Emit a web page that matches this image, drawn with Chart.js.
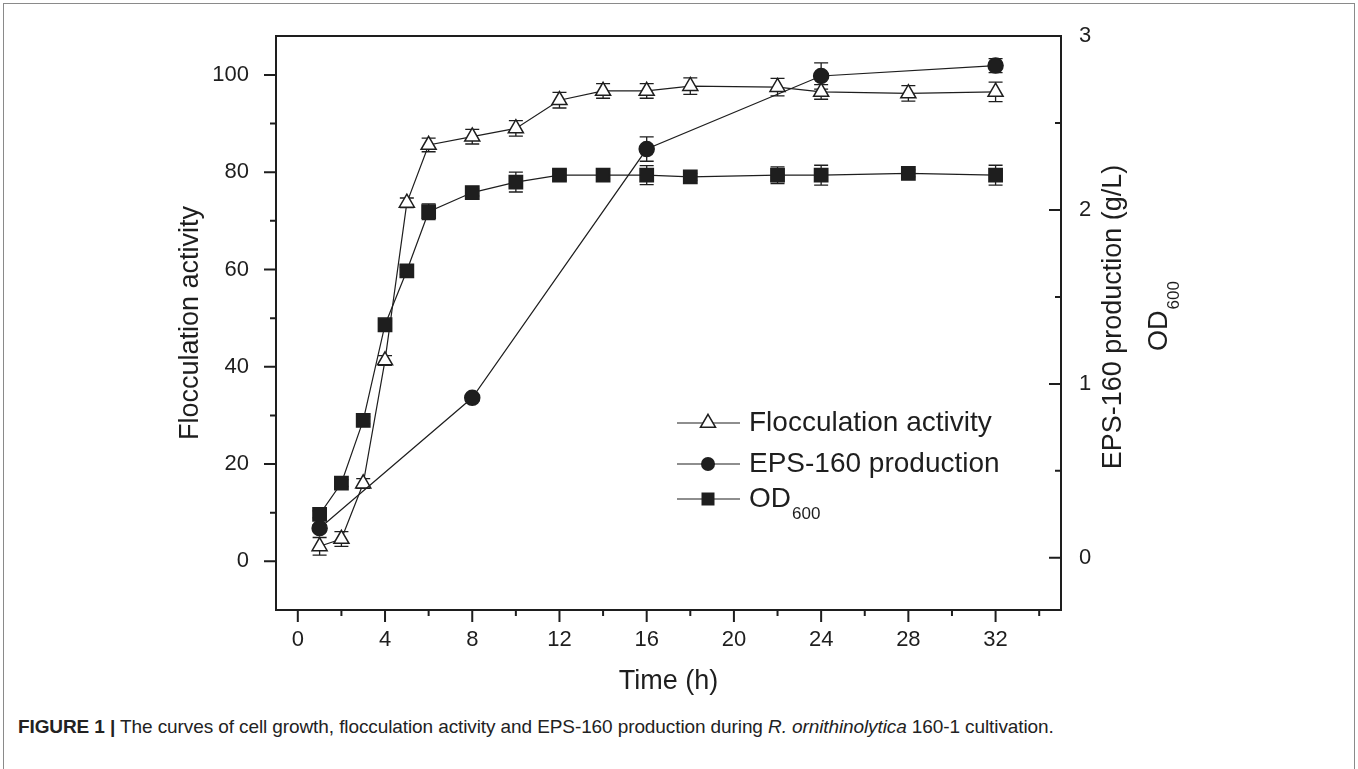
<!DOCTYPE html>
<html>
<head>
<meta charset="utf-8">
<script src="https://cdn.jsdelivr.net/npm/chart.js@4.4.1/dist/chart.umd.min.js"></script>
<style>
  html, body { margin: 0; padding: 0; background: #fff; }
  body { width: 1358px; height: 769px; position: relative; overflow: hidden; font-family: "Liberation Sans", Arial, sans-serif; }
  #frame { position: absolute; left: 3px; top: 3px; width: 1350px; height: 800px; border: 1px solid #8a8a8a; }
  #chart { position: absolute; left: 0; top: 0; }
  #caption { position: absolute; left: 18px; top: 716px; font-size: 19px; color: #222; white-space: nowrap; letter-spacing: -0.1px; }
  #caption b { font-weight: bold; }
</style>
</head>
<body>
<div id="frame"></div>
<canvas id="chart" width="1358" height="700"></canvas>
<div id="caption"><b>FIGURE 1 |</b> The curves of cell growth, flocculation activity and EPS-160 production during <i>R. ornithinolytica</i> 160-1 cultivation.</div>
<script>
// données
const time = [1, 2, 3, 4, 5, 6, 8, 10, 12, 14, 16, 18, 22, 24, 28, 32];
const flocculation = [3.1, 4.6, 16.0, 41.3, 73.7, 85.6, 87.3, 89.0, 94.8, 96.7, 96.7, 97.7, 97.5, 96.5, 96.2, 96.5];
const flocculationErr = [1.8, 1.5, 1.0, 1.0, 1.0, 1.4, 1.5, 1.6, 1.6, 1.5, 1.5, 1.7, 1.8, 1.5, 1.6, 2.0];

const epsTime = [1, 8, 16, 24, 32];
const eps = [0.17, 0.92, 2.35, 2.77, 2.83];
const epsErr = [0.02, 0.02, 0.07, 0.075, 0.04];

const od = [0.25, 0.43, 0.79, 1.34, 1.65, 1.99, 2.10, 2.16, 2.20, 2.20, 2.20, 2.19, 2.20, 2.20, 2.21, 2.20];
const odErr = [0.02, 0.02, 0.02, 0.02, 0.02, 0.045, 0.02, 0.057, 0.03, 0.02, 0.055, 0.02, 0.048, 0.057, 0.02, 0.057];

// axes
const xTicks = [0, 4, 8, 12, 16, 20, 24, 28, 32];
const xMinor = [2, 6, 10, 14, 18, 22, 26, 30, 34];
const yTicks = [0, 20, 40, 60, 80, 100];
const yMinor = [10, 30, 50, 70, 90];
const y1Ticks = [0, 1, 2, 3];
const y1Minor = [0.5, 1.5, 2.5];

const INK = '#1e1e1e';
const FONT = '"Liberation Sans", Arial, sans-serif';

function pts(xs, ys) {
    return xs.map((x, i) => ({ x: x, y: ys[i] }));
}

function drawMarker(ctx, style, x, y) {
    ctx.save();
    ctx.lineWidth = 1.5;
    ctx.strokeStyle = INK;
    ctx.fillStyle = INK;
    ctx.beginPath();
    if (style === 'triangle') {
        const r = 8.7;
        ctx.moveTo(x, y - r);
        ctx.lineTo(x + r * 0.866, y + r / 2);
        ctx.lineTo(x - r * 0.866, y + r / 2);
        ctx.closePath();
        ctx.fillStyle = '#fff';
        ctx.fill();
        ctx.stroke();
    } else if (style === 'circle') {
        ctx.arc(x, y, 7, 0, Math.PI * 2);
        ctx.fill();
    } else {
        ctx.rect(x - 6.5, y - 6.5, 13, 13);
        ctx.fill();
    }
    ctx.restore();
}

// barres d'erreur, cadre, graduations, légende et titre de droite
const figurePlugin = {
    id: 'figure',
    beforeDatasetsDraw(chart) {
        const ctx = chart.ctx;
        ctx.save();
        ctx.strokeStyle = INK;
        ctx.lineWidth = 1.3;
        chart.data.datasets.forEach((ds, di) => {
            const meta = chart.getDatasetMeta(di);
            const scale = chart.scales[ds.yAxisID];
            ds.data.forEach((p, i) => {
                const e = ds.errors[i];
                const px = meta.data[i].x;
                const top = scale.getPixelForValue(p.y + e);
                const bot = scale.getPixelForValue(p.y - e);
                ctx.beginPath();
                ctx.moveTo(px, top); ctx.lineTo(px, bot);
                ctx.moveTo(px - 7, top); ctx.lineTo(px + 7, top);
                ctx.moveTo(px - 7, bot); ctx.lineTo(px + 7, bot);
                ctx.stroke();
            });
        });
        ctx.restore();
    },
    afterDraw(chart) {
        const ctx = chart.ctx;
        const a = chart.chartArea;
        const sx = chart.scales.x, sy = chart.scales.y, sy1 = chart.scales.y1;
        ctx.save();
        ctx.strokeStyle = INK;
        ctx.lineWidth = 2;
        ctx.strokeRect(a.left, a.top, a.right - a.left, a.bottom - a.top);

        ctx.beginPath();
        xTicks.forEach(v => { const p = sx.getPixelForValue(v); ctx.moveTo(p, a.bottom); ctx.lineTo(p, a.bottom + 12); });
        xMinor.forEach(v => { const p = sx.getPixelForValue(v); ctx.moveTo(p, a.bottom); ctx.lineTo(p, a.bottom + 6); });
        yTicks.forEach(v => { const p = sy.getPixelForValue(v); ctx.moveTo(a.left, p); ctx.lineTo(a.left - 12, p); });
        yMinor.forEach(v => { const p = sy.getPixelForValue(v); ctx.moveTo(a.left, p); ctx.lineTo(a.left - 6, p); });
        y1Ticks.forEach(v => { const p = sy1.getPixelForValue(v); ctx.moveTo(a.right, p); ctx.lineTo(a.right - 12, p); });
        y1Minor.forEach(v => { const p = sy1.getPixelForValue(v); ctx.moveTo(a.right, p); ctx.lineTo(a.right - 6, p); });
        ctx.stroke();

        // légende
        const rows = [
            { style: 'triangle', text: 'Flocculation activity', y: 423 },
            { style: 'circle', text: 'EPS-160 production', y: 464 },
            { style: 'square', text: 'OD', sub: '600', y: 499 }
        ];
        ctx.fillStyle = INK;
        ctx.textBaseline = 'middle';
        ctx.textAlign = 'left';
        rows.forEach(r => {
            ctx.lineWidth = 1.2;
            ctx.beginPath();
            ctx.moveTo(677, r.y); ctx.lineTo(740, r.y);
            ctx.stroke();
            drawMarker(ctx, r.style, 708, r.y);
            ctx.fillStyle = INK;
            ctx.font = '28px ' + FONT;
            ctx.fillText(r.text, 749, r.y);
            if (r.sub) {
                const w = ctx.measureText(r.text).width;
                ctx.font = '17px ' + FONT;
                ctx.fillText(r.sub, 749 + w + 1, r.y + 15);
            }
        });

        // titre de l'axe de droite (deux lignes, tourné)
        ctx.save();
        ctx.translate(1114, 317);
        ctx.rotate(-Math.PI / 2);
        ctx.textAlign = 'center';
        ctx.font = '27px ' + FONT;
        ctx.fillText('EPS-160 production (g/L)', 0, 0);
        ctx.restore();

        ctx.save();
        ctx.translate(1160, 316);
        ctx.rotate(-Math.PI / 2);
        ctx.font = '27px ' + FONT;
        const wOD = ctx.measureText('OD').width;
        ctx.font = '17px ' + FONT;
        const wSub = ctx.measureText('600').width;
        const start = -(wOD + wSub + 1) / 2;
        ctx.textAlign = 'left';
        ctx.font = '27px ' + FONT;
        ctx.fillText('OD', start, 0);
        ctx.font = '17px ' + FONT;
        ctx.fillText('600', start + wOD + 1, 14);
        ctx.restore();

        ctx.restore();
    }
};

const lineStyle = {
    borderColor: INK,
    borderWidth: 1.2,
    pointBorderColor: INK,
    pointBorderWidth: 1.5,
    tension: 0,
    fill: false
};

new Chart(document.getElementById('chart'), {
    type: 'line',
    data: {
        datasets: [
            Object.assign({
                label: 'OD600',
                data: pts(time, od),
                errors: odErr,
                yAxisID: 'y1',
                pointStyle: 'rect',
                pointRadius: 9.4,
                pointBackgroundColor: INK
            }, lineStyle),
            Object.assign({
                label: 'EPS-160 production',
                data: pts(epsTime, eps),
                errors: epsErr,
                yAxisID: 'y1',
                pointStyle: 'circle',
                pointRadius: 7.5,
                pointBorderWidth: 0.5,
                pointBackgroundColor: INK
            }, lineStyle),
            Object.assign({
                label: 'Flocculation activity',
                data: pts(time, flocculation),
                errors: flocculationErr,
                yAxisID: 'y',
                pointStyle: 'triangle',
                pointRadius: 8.7,
                pointBackgroundColor: '#fff'
            }, lineStyle)
        ]
    },
    options: {
        responsive: false,
        animation: false,
        devicePixelRatio: 1,
        layout: { padding: { left: 160, right: 0, top: 36, bottom: 0 } },
        plugins: {
            legend: { display: false },
            tooltip: { enabled: false }
        },
        scales: {
            x: {
                type: 'linear',
                min: -1,
                max: 35,
                afterBuildTicks: s => { s.ticks = xTicks.map(v => ({ value: v })); },
                afterFit: s => { s.height = 90; },
                grid: { display: false },
                border: { display: false },
                ticks: { color: INK, font: { family: FONT, size: 22 }, padding: 9, maxRotation: 0 },
                title: { display: true, text: 'Time (h)', color: INK, font: { family: FONT, size: 27 }, padding: { top: 0, bottom: 2 } }
            },
            y: {
                position: 'left',
                min: -10,
                max: 108,
                afterBuildTicks: s => { s.ticks = yTicks.map(v => ({ value: v })); },
                afterFit: s => { s.width = 116; },
                grid: { display: false },
                border: { display: false },
                ticks: { color: INK, font: { family: FONT, size: 22 }, padding: 19 },
                title: { display: true, text: 'Flocculation activity', color: INK, font: { family: FONT, size: 27 }, padding: { top: 14, bottom: 0 } }
            },
            y1: {
                position: 'right',
                min: -0.3,
                max: 3.0,
                afterBuildTicks: s => { s.ticks = y1Ticks.map(v => ({ value: v })); },
                afterFit: s => { s.width = 297; },
                grid: { display: false },
                border: { display: false },
                ticks: { color: INK, font: { family: FONT, size: 22 }, padding: 10 }
            }
        }
    },
    plugins: [figurePlugin]
});
</script>
</body>
</html>
